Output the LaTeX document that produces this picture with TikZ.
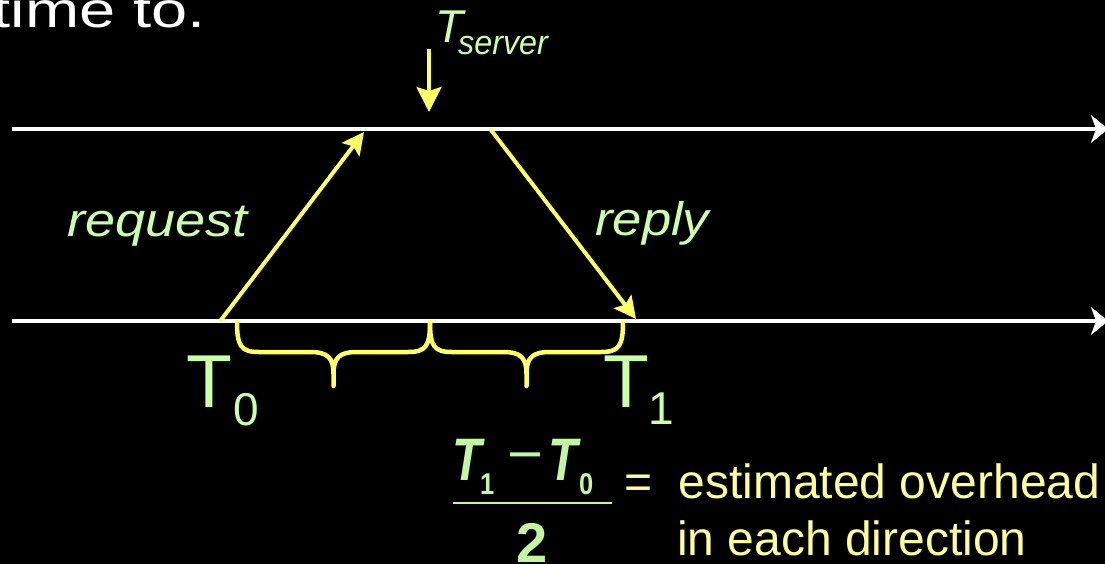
\documentclass[tikz,border=0pt]{standalone}
\usepackage{fontspec}
\setmainfont{Liberation Sans}
\usepackage{graphicx}
\usetikzlibrary{arrows.meta}
\definecolor{lgreen}{HTML}{CCFFAA}
\definecolor{fgreen}{HTML}{C4F5A0}
\definecolor{ayellow}{HTML}{FFFF66}
\definecolor{tyellow}{HTML}{FFFF99}
\newcommand{\fs}[1]{\fontsize{#1}{#1}\selectfont}
\begin{document}
\begin{tikzpicture}[x=1pt,y=-1pt,
  timeline/.style={draw=white,line width=4pt,-{Stealth[length=17pt,width=28pt,inset=5pt]}},
  msg/.style={draw=ayellow,line width=4pt,line cap=round,-{Stealth[length=22pt,width=22pt,inset=4pt]}},
  srvarrow/.style={draw=ayellow,line width=4pt,-{Stealth[length=25pt,width=25pt,inset=4pt]}},
  bracepath/.style={draw=ayellow,line width=4.5pt,line join=round,line cap=round},
  lbl/.style={inner sep=0pt,anchor=base west},
  glbl/.style={lbl,text=lgreen},
  flbl/.style={lbl,text=fgreen},
  ylbl/.style={lbl,text=tyellow},
]
\fill[black] (0,0) rectangle (1105,564);
\useasboundingbox (0,0) rectangle (1105,564);

% heading fragment
\node[inner sep=0pt,anchor=base east,text=white] (head) at (206,28) {\scalebox{1.3}[1]{\fs{50}time to.}};

% timelines
\coordinate (srvL) at (12,129);
\coordinate (srvR) at (1108,129);
\coordinate (cliL) at (12,321);
\coordinate (cliR) at (1108,321);
\draw[timeline] (srvL) -- (srvR);
\draw[timeline] (cliL) -- (cliR);

% messages
\coordinate (reqS) at (221,320);
\coordinate (reqE) at (364,132);
\coordinate (repS) at (491,130);
\coordinate (repE) at (636,319);
\draw[msg] (reqS) -- (reqE);
\draw[msg] (repS) -- (repE);

% T_server
\node[glbl] (tsT) at (435,43) {\fs{46}\itshape T};
\node[glbl] (tsSub) at (458,55) {\scalebox{0.95}[1]{\fs{34}\itshape server}};
\coordinate (srvA) at (429,49);
\coordinate (srvB) at (429,112);
\draw[srvarrow] (srvA) -- (srvB);

% labels
\node[glbl] (req) at (67,236) {\scalebox{1.15}[1]{\fs{47}\itshape request}};
\node[glbl] (rep) at (595,235) {\scalebox{1.12}[1]{\fs{47}\itshape reply}};

% T0 and T1
\node[glbl] (t0T) at (186,407) {\fs{75}T};
\node[glbl] (t0S) at (233,425) {\fs{46}0};
\node[glbl] (t1T) at (603,407) {\fs{75}T};
\node[glbl] (t1S) at (648,424) {\fs{46}1};

% braces
\draw[bracepath] (237,322) .. controls (237,346) and (241,352) .. (259,352)
  -- (310,352) .. controls (328,352) and (333.5,358) .. (333.5,374) -- (333.5,386)
  -- (333.5,374) .. controls (333.5,358) and (339,352) .. (357,352)
  -- (408,352) .. controls (426,352) and (430,346) .. (430,322);
\draw[bracepath] (430,322) .. controls (430,346) and (434,352) .. (452,352)
  -- (503,352) .. controls (521,352) and (526.5,358) .. (526.5,374) -- (526.5,386)
  -- (526.5,374) .. controls (526.5,358) and (532,352) .. (550,352)
  -- (601,352) .. controls (619,352) and (623,346) .. (623,322);

% fraction
\node[flbl] (fT1) at (452,480) {\scalebox{0.8}[1]{\fs{60}\bfseries\itshape T}};
\node[flbl] (fS1) at (480,494) {\scalebox{0.85}[1]{\fs{30}\bfseries 1}};
\node[inner sep=0pt,text=fgreen] (fMinus) at (525,463) {\scalebox{1.1}[1]{\fs{56}−}};
\node[flbl] (fT0) at (548,480) {\scalebox{0.8}[1]{\fs{60}\bfseries\itshape T}};
\node[flbl] (fS0) at (579,494) {\scalebox{0.85}[1]{\fs{30}\bfseries 0}};
\coordinate (barL) at (453,503);
\coordinate (barR) at (612,503);
\draw[fgreen,line width=2.5pt] (barL) -- (barR);
\node[flbl] (fTwo) at (516,562) {\fs{56}\bfseries 2};

% explanation
\node[ylbl] (ex1) at (624,498) {\fs{48}=\hspace{13pt} estimated overhead};
\node[ylbl] (ex2) at (677,555) {\fs{48}in each direction};
\end{tikzpicture}
\end{document}
